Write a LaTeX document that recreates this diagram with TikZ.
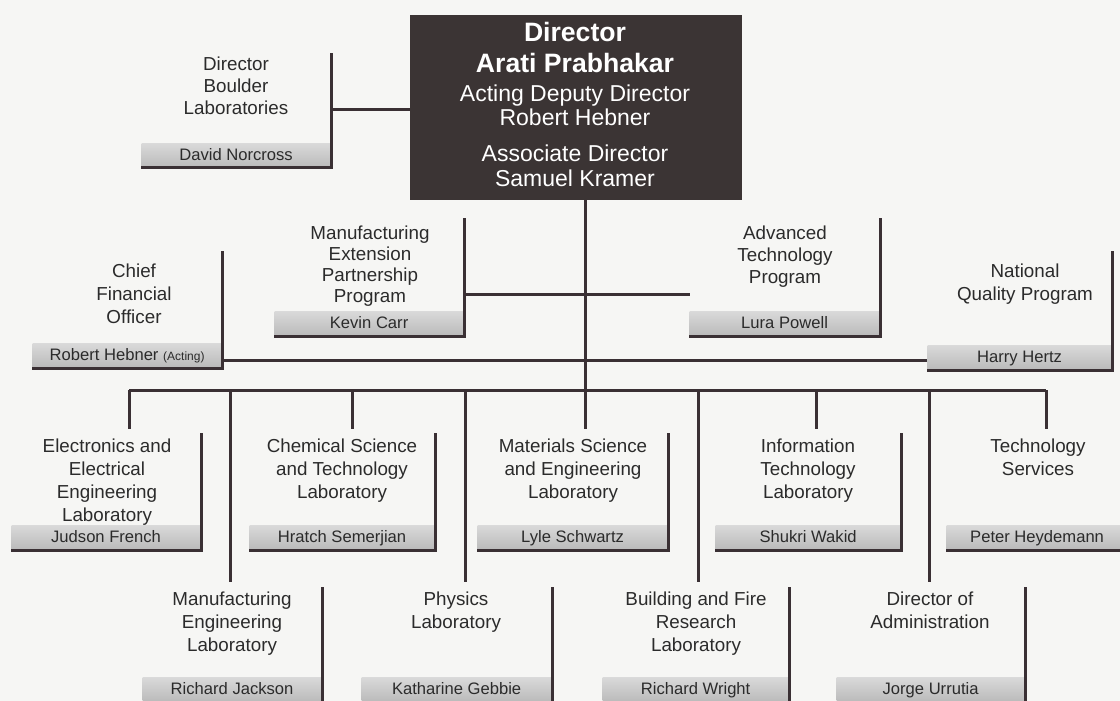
\documentclass[tikz,border=0pt]{standalone}
\usepackage{fontspec}
\setmainfont{Liberation Sans}
\usepackage{xcolor}
\usepackage{tikz}

\definecolor{inkline}{HTML}{3A3034}
\definecolor{dirfill}{HTML}{3B3434}
\definecolor{barlight}{HTML}{D9D9D9}
\definecolor{bardark}{HTML}{BABABA}
\definecolor{paper}{HTML}{F6F6F4}
\definecolor{inktext}{HTML}{2B2B2B}

\begin{document}
\begin{tikzpicture}[x=0.5pt, y=-0.5pt,
    frame/.style={draw=inkline, line width=1.5pt},
    title/.style={align=center, anchor=north, inner sep=0pt, text=inktext, font=\fontsize{9.4}{11.5}\selectfont},
    namebar/.style={anchor=south east, inner sep=0pt, minimum height=12pt, text height=6.3pt, text depth=1.7pt, top color=barlight, bottom color=bardark, text=inktext, font=\fontsize{8.3}{10}\selectfont},
    dirtext/.style={align=center, inner sep=0pt, text=white}]

    \useasboundingbox (0,0) rectangle (1120,701);
    \clip (0,0) rectangle (1120,701);
    \fill[paper] (0,0) rectangle (1120,701);

    % Director
    \node[fill=dirfill, minimum width=166pt, minimum height=92.5pt, inner sep=0pt] (dir) at (576,107.5) {};
    \node[dirtext, font=\fontsize{13.3}{15.5}\selectfont\bfseries] (dirname) at (575,47.5) {Director\\Arati Prabhakar};
    \node[dirtext, font=\fontsize{11.5}{12}\selectfont] (dirdeputy) at (575,105) {Acting Deputy Director\\Robert Hebner};
    \node[dirtext, font=\fontsize{11.5}{12.5}\selectfont] (dirassoc) at (575,165.5) {Associate Director\\Samuel Kramer};

    % Staff offices
    \node[title, font=\fontsize{9.4}{11}\selectfont] (bldtitle) at (236,56) {Director\\Boulder\\Laboratories};
    \node[namebar, minimum width=94.5pt] (bldbar) at (331,168) {David Norcross};
    \draw[frame] (bldbar.south west) -- (bldbar.south east) -- ++(0,-115);

    \node[title, font=\fontsize{9.4}{10.6}\selectfont] (meptitle) at (370,225) {Manufacturing\\Extension\\Partnership\\Program};
    \node[namebar, minimum width=94.5pt] (mepbar) at (464,336) {Kevin Carr};
    \draw[frame] (mepbar.south west) -- (mepbar.south east) -- ++(0,-118);

    \node[title, font=\fontsize{9.4}{11}\selectfont] (atptitle) at (785,225) {Advanced\\Technology\\Program};
    \node[namebar, minimum width=95pt] (atpbar) at (880,336) {Lura Powell};
    \draw[frame] (atpbar.south west) -- (atpbar.south east) -- ++(0,-118);

    \node[title] (cfotitle) at (134,263) {Chief\\Financial\\Officer};
    \node[namebar, minimum width=94.5pt] (cfobar) at (222,368) {Robert Hebner {\fontsize{6}{7}\selectfont(Acting)}};
    \draw[frame] (cfobar.south west) -- (cfobar.south east) -- ++(0,-117);

    \node[title] (nqptitle) at (1025,263) {National\\Quality Program};
    \node[namebar, minimum width=92pt] (nqpbar) at (1112,370) {Harry Hertz};
    \draw[frame] (nqpbar.south west) -- (nqpbar.south east) -- ++(0,-119);

    % Laboratories, first row
    \node[title] (eeeltitle) at (107,438) {Electronics and\\Electrical\\Engineering\\Laboratory};
    \node[namebar, minimum width=94.5pt] (eeelbar) at (201,550) {Judson French};
    \draw[frame] (eeelbar.south west) -- (eeelbar.south east) -- ++(0,-117);

    \node[title] (cstltitle) at (342,438) {Chemical Science\\and Technology\\Laboratory};
    \node[namebar, minimum width=92.5pt] (cstlbar) at (435,550) {Hratch Semerjian};
    \draw[frame] (cstlbar.south west) -- (cstlbar.south east) -- ++(0,-117);

    \node[title] (mseltitle) at (573,438) {Materials Science\\and Engineering\\Laboratory};
    \node[namebar, minimum width=95pt] (mselbar) at (668,550) {Lyle Schwartz};
    \draw[frame] (mselbar.south west) -- (mselbar.south east) -- ++(0,-117);

    \node[title] (itltitle) at (808,438) {Information\\Technology\\Laboratory};
    \node[namebar, minimum width=92.5pt] (itlbar) at (901,550) {Shukri Wakid};
    \draw[frame] (itlbar.south west) -- (itlbar.south east) -- ++(0,-117);

    \node[title] (tstitle) at (1038,438) {Technology\\Services};
    \node[namebar, minimum width=90.5pt] (tsbar) at (1128,550) {Peter Heydemann};
    \draw[frame] (tsbar.south west) -- (tsbar.south east) -- ++(0,-117);

    % Laboratories, second row
    \node[title] (meltitle) at (232,591) {Manufacturing\\Engineering\\Laboratory};
    \node[namebar, minimum width=89.5pt] (melbar) at (322,702) {Richard Jackson};
    \draw[frame] (melbar.south west) -- (melbar.south east) -- ++(0,-115);

    \node[title] (pltitle) at (456,591) {Physics\\Laboratory};
    \node[namebar, minimum width=95pt] (plbar) at (552,702) {Katharine Gebbie};
    \draw[frame] (plbar.south west) -- (plbar.south east) -- ++(0,-115);

    \node[title] (bfrltitle) at (696,591) {Building and Fire\\Research\\Laboratory};
    \node[namebar, minimum width=93pt] (bfrlbar) at (789,702) {Richard Wright};
    \draw[frame] (bfrlbar.south west) -- (bfrlbar.south east) -- ++(0,-115);

    \node[title] (admtitle) at (930,591) {Director of\\Administration};
    \node[namebar, minimum width=94pt] (admbar) at (1025,702) {Jorge Urrutia};
    \draw[frame] (admbar.south west) -- (admbar.south east) -- ++(0,-115);

    % Connectors
    \coordinate (bldout) at (331,110);
    \coordinate (mepout) at (464,294);
    \coordinate (atpin) at (690,294);
    \coordinate (cfoout) at (222,360);
    \coordinate (bus) at (585,390);
    \coordinate (eeelin) at (129,429);
    \coordinate (cstlin) at (352,429);
    \coordinate (mselin) at (585,429);
    \coordinate (itlin) at (816,429);
    \coordinate (tsin) at (1046,429);
    \coordinate (melin) at (230,582);
    \coordinate (plin) at (465,582);
    \coordinate (bfrlin) at (698,582);
    \coordinate (admin) at (929,582);

    \draw[frame] (bldout) -- (bldout -| dir.west);
    \draw[frame] (mepout) -- (atpin);
    \draw[frame] (cfoout) -- (cfoout -| nqpbar.west);
    \draw[frame] (dir.south -| mselin) -- (mselin);
    \draw[frame] (eeelin |- bus) -- (tsin |- bus);
    \foreach \lab in {eeelin, cstlin, itlin, tsin, melin, plin, bfrlin, admin}
        \draw[frame] (\lab |- bus) -- (\lab);
\end{tikzpicture}
\end{document}
